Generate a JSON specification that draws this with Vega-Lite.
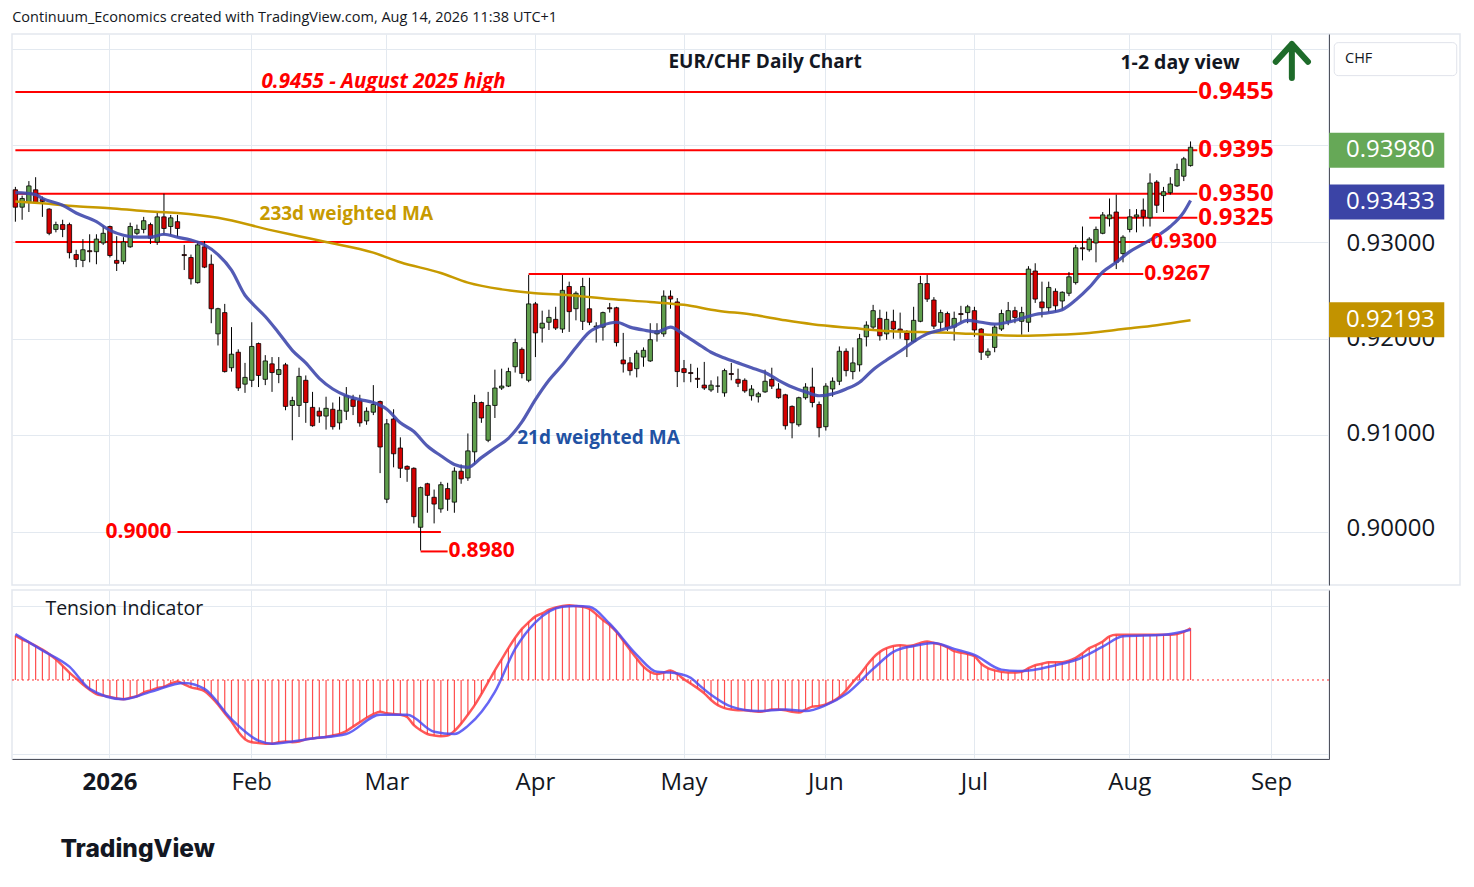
{
  "$schema": "https://vega.github.io/schema/vega-lite/v6.json",
  "description": "EUR/CHF daily candlestick chart with 21d and 233d weighted MAs, key levels and Tension Indicator panel.",
  "background": "white",
  "padding": {"left": 8, "top": 9, "right": 0, "bottom": 0},
  "title": {
    "text": "Continuum_Economics created with TradingView.com, Aug 14, 2026 11:38 UTC+1",
    "anchor": "start", "fontSize": 14.5, "fontWeight": "normal", "font": "Open Sans", "color": "#131722", "offset": 8, "dx": 4
  },
  "config": {
    "font": "Open Sans",
    "view": {"stroke": "#e3e7ee", "strokeWidth": 1.5},
    "axis": {"gridColor": "#e3e9f0", "gridWidth": 1, "labelColor": "#131722", "domainColor": "#50535e"}
  },
  "datasets": {
    "candles": [
      {"d":"2025-12-11","o":0.9354,"h":0.9357,"l":0.9321,"c":0.9336,"ti":0.60},
      {"d":"2025-12-12","o":0.9336,"h":0.9348,"l":0.9323,"c":0.9345,"ti":0.55},
      {"d":"2025-12-15","o":0.9341,"h":0.9363,"l":0.9331,"c":0.9358,"ti":0.51},
      {"d":"2025-12-16","o":0.9354,"h":0.9367,"l":0.9340,"c":0.9341,"ti":0.46},
      {"d":"2025-12-17","o":0.9344,"h":0.9347,"l":0.9326,"c":0.9342,"ti":0.41},
      {"d":"2025-12-18","o":0.9334,"h":0.9335,"l":0.9307,"c":0.9309,"ti":0.35},
      {"d":"2025-12-19","o":0.9313,"h":0.9321,"l":0.9310,"c":0.9318,"ti":0.28},
      {"d":"2025-12-22","o":0.9318,"h":0.9323,"l":0.9305,"c":0.9313,"ti":0.19},
      {"d":"2025-12-23","o":0.9318,"h":0.9320,"l":0.9283,"c":0.9289,"ti":0.10},
      {"d":"2025-12-24","o":0.9287,"h":0.9292,"l":0.9274,"c":0.9282,"ti":0.02},
      {"d":"2025-12-26","o":0.9281,"h":0.9303,"l":0.9274,"c":0.9292,"ti":-0.06},
      {"d":"2025-12-29","o":0.9291,"h":0.9308,"l":0.9279,"c":0.9290,"ti":-0.13},
      {"d":"2025-12-30","o":0.9290,"h":0.9308,"l":0.9277,"c":0.9303,"ti":-0.19},
      {"d":"2025-12-31","o":0.9299,"h":0.9317,"l":0.9297,"c":0.9309,"ti":-0.21},
      {"d":"2026-01-02","o":0.9316,"h":0.9317,"l":0.9284,"c":0.9286,"ti":-0.23},
      {"d":"2026-01-05","o":0.9281,"h":0.9306,"l":0.9270,"c":0.9278,"ti":-0.25},
      {"d":"2026-01-06","o":0.9280,"h":0.9305,"l":0.9277,"c":0.9300,"ti":-0.26},
      {"d":"2026-01-07","o":0.9295,"h":0.9320,"l":0.9294,"c":0.9316,"ti":-0.24},
      {"d":"2026-01-08","o":0.9309,"h":0.9318,"l":0.9307,"c":0.9313,"ti":-0.22},
      {"d":"2026-01-09","o":0.9313,"h":0.9326,"l":0.9309,"c":0.9322,"ti":-0.17},
      {"d":"2026-01-12","o":0.9318,"h":0.9320,"l":0.9298,"c":0.9304,"ti":-0.14},
      {"d":"2026-01-13","o":0.9300,"h":0.9330,"l":0.9297,"c":0.9326,"ti":-0.11},
      {"d":"2026-01-14","o":0.9326,"h":0.9350,"l":0.9307,"c":0.9314,"ti":-0.09},
      {"d":"2026-01-15","o":0.9316,"h":0.9328,"l":0.9307,"c":0.9325,"ti":-0.05},
      {"d":"2026-01-16","o":0.9321,"h":0.9328,"l":0.9305,"c":0.9314,"ti":-0.02},
      {"d":"2026-01-19","o":0.9287,"h":0.9297,"l":0.9271,"c":0.9286,"ti":-0.06},
      {"d":"2026-01-20","o":0.9284,"h":0.9287,"l":0.9256,"c":0.9262,"ti":-0.10},
      {"d":"2026-01-21","o":0.9258,"h":0.9301,"l":0.9257,"c":0.9297,"ti":-0.12},
      {"d":"2026-01-22","o":0.9295,"h":0.9301,"l":0.9273,"c":0.9274,"ti":-0.15},
      {"d":"2026-01-23","o":0.9277,"h":0.9287,"l":0.9216,"c":0.9231,"ti":-0.23},
      {"d":"2026-01-26","o":0.9205,"h":0.9232,"l":0.9193,"c":0.9231,"ti":-0.33},
      {"d":"2026-01-27","o":0.9227,"h":0.9236,"l":0.9165,"c":0.9166,"ti":-0.45},
      {"d":"2026-01-28","o":0.9170,"h":0.9212,"l":0.9166,"c":0.9184,"ti":-0.56},
      {"d":"2026-01-29","o":0.9186,"h":0.9189,"l":0.9146,"c":0.9149,"ti":-0.70},
      {"d":"2026-01-30","o":0.9153,"h":0.9175,"l":0.9144,"c":0.9160,"ti":-0.80},
      {"d":"2026-02-02","o":0.9157,"h":0.9217,"l":0.9150,"c":0.9192,"ti":-0.84},
      {"d":"2026-02-03","o":0.9195,"h":0.9196,"l":0.9150,"c":0.9162,"ti":-0.85},
      {"d":"2026-02-04","o":0.9158,"h":0.9183,"l":0.9152,"c":0.9177,"ti":-0.86},
      {"d":"2026-02-05","o":0.9174,"h":0.9181,"l":0.9145,"c":0.9165,"ti":-0.86},
      {"d":"2026-02-06","o":0.9163,"h":0.9181,"l":0.9154,"c":0.9168,"ti":-0.84},
      {"d":"2026-02-09","o":0.9173,"h":0.9175,"l":0.9126,"c":0.9130,"ti":-0.83},
      {"d":"2026-02-10","o":0.9131,"h":0.9140,"l":0.9095,"c":0.9136,"ti":-0.84},
      {"d":"2026-02-11","o":0.9131,"h":0.9170,"l":0.9119,"c":0.9161,"ti":-0.83},
      {"d":"2026-02-12","o":0.9157,"h":0.9162,"l":0.9113,"c":0.9134,"ti":-0.80},
      {"d":"2026-02-13","o":0.9129,"h":0.9145,"l":0.9109,"c":0.9110,"ti":-0.79},
      {"d":"2026-02-16","o":0.9125,"h":0.9129,"l":0.9113,"c":0.9120,"ti":-0.78},
      {"d":"2026-02-17","o":0.9120,"h":0.9140,"l":0.9106,"c":0.9128,"ti":-0.77},
      {"d":"2026-02-18","o":0.9127,"h":0.9134,"l":0.9106,"c":0.9109,"ti":-0.75},
      {"d":"2026-02-19","o":0.9113,"h":0.9140,"l":0.9106,"c":0.9126,"ti":-0.73},
      {"d":"2026-02-20","o":0.9125,"h":0.9150,"l":0.9116,"c":0.9141,"ti":-0.69},
      {"d":"2026-02-23","o":0.9137,"h":0.9142,"l":0.9121,"c":0.9130,"ti":-0.63},
      {"d":"2026-02-24","o":0.9136,"h":0.9142,"l":0.9109,"c":0.9113,"ti":-0.57},
      {"d":"2026-02-25","o":0.9115,"h":0.9129,"l":0.9111,"c":0.9125,"ti":-0.51},
      {"d":"2026-02-26","o":0.9124,"h":0.9152,"l":0.9121,"c":0.9132,"ti":-0.46},
      {"d":"2026-02-27","o":0.9135,"h":0.9136,"l":0.9061,"c":0.9088,"ti":-0.43},
      {"d":"2026-03-02","o":0.9034,"h":0.9117,"l":0.9030,"c":0.9112,"ti":-0.45},
      {"d":"2026-03-03","o":0.9117,"h":0.9127,"l":0.9067,"c":0.9081,"ti":-0.46},
      {"d":"2026-03-04","o":0.9087,"h":0.9098,"l":0.9056,"c":0.9066,"ti":-0.47},
      {"d":"2026-03-05","o":0.9068,"h":0.9069,"l":0.9052,"c":0.9065,"ti":-0.50},
      {"d":"2026-03-06","o":0.9066,"h":0.9067,"l":0.9009,"c":0.9016,"ti":-0.61},
      {"d":"2026-03-09","o":0.9005,"h":0.9047,"l":0.8981,"c":0.9046,"ti":-0.68},
      {"d":"2026-03-10","o":0.9050,"h":0.9051,"l":0.9020,"c":0.9038,"ti":-0.73},
      {"d":"2026-03-11","o":0.9036,"h":0.9044,"l":0.9009,"c":0.9029,"ti":-0.75},
      {"d":"2026-03-12","o":0.9024,"h":0.9052,"l":0.9020,"c":0.9049,"ti":-0.76},
      {"d":"2026-03-13","o":0.9045,"h":0.9051,"l":0.9022,"c":0.9034,"ti":-0.75},
      {"d":"2026-03-16","o":0.9031,"h":0.9067,"l":0.9020,"c":0.9063,"ti":-0.69},
      {"d":"2026-03-17","o":0.9063,"h":0.9070,"l":0.9050,"c":0.9055,"ti":-0.59},
      {"d":"2026-03-18","o":0.9056,"h":0.9102,"l":0.9053,"c":0.9084,"ti":-0.47},
      {"d":"2026-03-19","o":0.9083,"h":0.9142,"l":0.9070,"c":0.9134,"ti":-0.34},
      {"d":"2026-03-20","o":0.9134,"h":0.9135,"l":0.9113,"c":0.9118,"ti":-0.19},
      {"d":"2026-03-23","o":0.9095,"h":0.9145,"l":0.9093,"c":0.9131,"ti":-0.03},
      {"d":"2026-03-24","o":0.9131,"h":0.9168,"l":0.9118,"c":0.9149,"ti":0.13},
      {"d":"2026-03-25","o":0.9149,"h":0.9169,"l":0.9147,"c":0.9151,"ti":0.28},
      {"d":"2026-03-26","o":0.9151,"h":0.9170,"l":0.9150,"c":0.9166,"ti":0.43},
      {"d":"2026-03-27","o":0.9171,"h":0.9200,"l":0.9165,"c":0.9196,"ti":0.57},
      {"d":"2026-03-30","o":0.9189,"h":0.9191,"l":0.9159,"c":0.9164,"ti":0.69},
      {"d":"2026-03-31","o":0.9157,"h":0.9266,"l":0.9155,"c":0.9236,"ti":0.78},
      {"d":"2026-04-01","o":0.9236,"h":0.9238,"l":0.9181,"c":0.9206,"ti":0.86},
      {"d":"2026-04-02","o":0.9211,"h":0.9229,"l":0.9196,"c":0.9216,"ti":0.90},
      {"d":"2026-04-03","o":0.9217,"h":0.9230,"l":0.9209,"c":0.9222,"ti":0.95},
      {"d":"2026-04-06","o":0.9220,"h":0.9233,"l":0.9209,"c":0.9211,"ti":0.98},
      {"d":"2026-04-07","o":0.9210,"h":0.9266,"l":0.9206,"c":0.9250,"ti":1.00},
      {"d":"2026-04-08","o":0.9254,"h":0.9259,"l":0.9207,"c":0.9228,"ti":1.01},
      {"d":"2026-04-09","o":0.9231,"h":0.9249,"l":0.9219,"c":0.9247,"ti":1.00},
      {"d":"2026-04-10","o":0.9218,"h":0.9263,"l":0.9209,"c":0.9254,"ti":0.99},
      {"d":"2026-04-13","o":0.9231,"h":0.9263,"l":0.9214,"c":0.9217,"ti":0.96},
      {"d":"2026-04-14","o":0.9212,"h":0.9217,"l":0.9196,"c":0.9213,"ti":0.89},
      {"d":"2026-04-15","o":0.9212,"h":0.9228,"l":0.9198,"c":0.9227,"ti":0.81},
      {"d":"2026-04-16","o":0.9232,"h":0.9237,"l":0.9227,"c":0.9231,"ti":0.74},
      {"d":"2026-04-17","o":0.9232,"h":0.9233,"l":0.9192,"c":0.9196,"ti":0.65},
      {"d":"2026-04-20","o":0.9178,"h":0.9206,"l":0.9165,"c":0.9174,"ti":0.53},
      {"d":"2026-04-21","o":0.9175,"h":0.9181,"l":0.9162,"c":0.9167,"ti":0.41},
      {"d":"2026-04-22","o":0.9169,"h":0.9188,"l":0.9160,"c":0.9185,"ti":0.29},
      {"d":"2026-04-23","o":0.9181,"h":0.9191,"l":0.9171,"c":0.9188,"ti":0.18},
      {"d":"2026-04-24","o":0.9177,"h":0.9216,"l":0.9176,"c":0.9199,"ti":0.11},
      {"d":"2026-04-27","o":0.9205,"h":0.9216,"l":0.9197,"c":0.9208,"ti":0.08},
      {"d":"2026-04-28","o":0.9205,"h":0.9250,"l":0.9202,"c":0.9244,"ti":0.10},
      {"d":"2026-04-29","o":0.9244,"h":0.9250,"l":0.9231,"c":0.9241,"ti":0.13},
      {"d":"2026-04-30","o":0.9238,"h":0.9242,"l":0.9150,"c":0.9166,"ti":0.08},
      {"d":"2026-05-01","o":0.9169,"h":0.9178,"l":0.9155,"c":0.9165,"ti":0.01},
      {"d":"2026-05-04","o":0.9165,"h":0.9174,"l":0.9155,"c":0.9164,"ti":-0.05},
      {"d":"2026-05-05","o":0.9159,"h":0.9170,"l":0.9149,"c":0.9158,"ti":-0.11},
      {"d":"2026-05-06","o":0.9152,"h":0.9176,"l":0.9147,"c":0.9149,"ti":-0.18},
      {"d":"2026-05-07","o":0.9147,"h":0.9157,"l":0.9145,"c":0.9152,"ti":-0.27},
      {"d":"2026-05-08","o":0.9151,"h":0.9161,"l":0.9144,"c":0.9151,"ti":-0.34},
      {"d":"2026-05-11","o":0.9144,"h":0.9169,"l":0.9140,"c":0.9167,"ti":-0.38},
      {"d":"2026-05-12","o":0.9164,"h":0.9175,"l":0.9157,"c":0.9163,"ti":-0.40},
      {"d":"2026-05-13","o":0.9158,"h":0.9169,"l":0.9150,"c":0.9154,"ti":-0.41},
      {"d":"2026-05-14","o":0.9157,"h":0.9159,"l":0.9144,"c":0.9146,"ti":-0.41},
      {"d":"2026-05-15","o":0.9141,"h":0.9152,"l":0.9136,"c":0.9148,"ti":-0.42},
      {"d":"2026-05-18","o":0.9140,"h":0.9145,"l":0.9134,"c":0.9143,"ti":-0.43},
      {"d":"2026-05-19","o":0.9145,"h":0.9168,"l":0.9144,"c":0.9156,"ti":-0.42},
      {"d":"2026-05-20","o":0.9158,"h":0.9170,"l":0.9148,"c":0.9151,"ti":-0.40},
      {"d":"2026-05-21","o":0.9148,"h":0.9154,"l":0.9138,"c":0.9139,"ti":-0.40},
      {"d":"2026-05-22","o":0.9142,"h":0.9143,"l":0.9106,"c":0.9110,"ti":-0.41},
      {"d":"2026-05-25","o":0.9130,"h":0.9131,"l":0.9097,"c":0.9113,"ti":-0.43},
      {"d":"2026-05-26","o":0.9111,"h":0.9140,"l":0.9109,"c":0.9139,"ti":-0.44},
      {"d":"2026-05-27","o":0.9139,"h":0.9154,"l":0.9137,"c":0.9150,"ti":-0.40},
      {"d":"2026-05-28","o":0.9150,"h":0.9170,"l":0.9129,"c":0.9134,"ti":-0.36},
      {"d":"2026-05-29","o":0.9132,"h":0.9135,"l":0.9098,"c":0.9108,"ti":-0.35},
      {"d":"2026-06-01","o":0.9109,"h":0.9154,"l":0.9105,"c":0.9151,"ti":-0.33},
      {"d":"2026-06-02","o":0.9148,"h":0.9160,"l":0.9140,"c":0.9156,"ti":-0.29},
      {"d":"2026-06-03","o":0.9156,"h":0.9192,"l":0.9152,"c":0.9187,"ti":-0.23},
      {"d":"2026-06-04","o":0.9187,"h":0.9190,"l":0.9161,"c":0.9167,"ti":-0.14},
      {"d":"2026-06-05","o":0.9166,"h":0.9191,"l":0.9158,"c":0.9175,"ti":-0.03},
      {"d":"2026-06-08","o":0.9173,"h":0.9205,"l":0.9166,"c":0.9200,"ti":0.07},
      {"d":"2026-06-09","o":0.9202,"h":0.9218,"l":0.9192,"c":0.9214,"ti":0.19},
      {"d":"2026-06-10","o":0.9212,"h":0.9235,"l":0.9209,"c":0.9229,"ti":0.30},
      {"d":"2026-06-11","o":0.9221,"h":0.9230,"l":0.9198,"c":0.9203,"ti":0.38},
      {"d":"2026-06-12","o":0.9205,"h":0.9228,"l":0.9199,"c":0.9220,"ti":0.43},
      {"d":"2026-06-15","o":0.9218,"h":0.9230,"l":0.9200,"c":0.9210,"ti":0.46},
      {"d":"2026-06-16","o":0.9210,"h":0.9227,"l":0.9200,"c":0.9208,"ti":0.47},
      {"d":"2026-06-17","o":0.9206,"h":0.9209,"l":0.9181,"c":0.9199,"ti":0.46},
      {"d":"2026-06-18","o":0.9197,"h":0.9233,"l":0.9196,"c":0.9219,"ti":0.47},
      {"d":"2026-06-19","o":0.9218,"h":0.9265,"l":0.9217,"c":0.9257,"ti":0.50},
      {"d":"2026-06-22","o":0.9257,"h":0.9266,"l":0.9238,"c":0.9241,"ti":0.52},
      {"d":"2026-06-23","o":0.9240,"h":0.9243,"l":0.9210,"c":0.9213,"ti":0.50},
      {"d":"2026-06-24","o":0.9217,"h":0.9230,"l":0.9208,"c":0.9227,"ti":0.48},
      {"d":"2026-06-25","o":0.9226,"h":0.9228,"l":0.9208,"c":0.9211,"ti":0.44},
      {"d":"2026-06-26","o":0.9212,"h":0.9228,"l":0.9198,"c":0.9221,"ti":0.39},
      {"d":"2026-06-29","o":0.9226,"h":0.9234,"l":0.9217,"c":0.9225,"ti":0.37},
      {"d":"2026-06-30","o":0.9227,"h":0.9235,"l":0.9216,"c":0.9233,"ti":0.35},
      {"d":"2026-07-01","o":0.9229,"h":0.9233,"l":0.9202,"c":0.9209,"ti":0.32},
      {"d":"2026-07-02","o":0.9210,"h":0.9211,"l":0.9178,"c":0.9186,"ti":0.22},
      {"d":"2026-07-03","o":0.9183,"h":0.9190,"l":0.9180,"c":0.9187,"ti":0.16},
      {"d":"2026-07-06","o":0.9191,"h":0.9214,"l":0.9186,"c":0.9212,"ti":0.13},
      {"d":"2026-07-07","o":0.9210,"h":0.9230,"l":0.9208,"c":0.9226,"ti":0.11},
      {"d":"2026-07-08","o":0.9218,"h":0.9238,"l":0.9214,"c":0.9229,"ti":0.10},
      {"d":"2026-07-09","o":0.9229,"h":0.9233,"l":0.9216,"c":0.9222,"ti":0.10},
      {"d":"2026-07-10","o":0.9218,"h":0.9233,"l":0.9204,"c":0.9227,"ti":0.11},
      {"d":"2026-07-13","o":0.9217,"h":0.9275,"l":0.9207,"c":0.9272,"ti":0.16},
      {"d":"2026-07-14","o":0.9270,"h":0.9278,"l":0.9237,"c":0.9241,"ti":0.20},
      {"d":"2026-07-15","o":0.9238,"h":0.9259,"l":0.9222,"c":0.9232,"ti":0.22},
      {"d":"2026-07-16","o":0.9232,"h":0.9259,"l":0.9227,"c":0.9253,"ti":0.24},
      {"d":"2026-07-17","o":0.9249,"h":0.9252,"l":0.9228,"c":0.9234,"ti":0.24},
      {"d":"2026-07-20","o":0.9239,"h":0.9249,"l":0.9230,"c":0.9248,"ti":0.24},
      {"d":"2026-07-21","o":0.9247,"h":0.9269,"l":0.9244,"c":0.9264,"ti":0.26},
      {"d":"2026-07-22","o":0.9258,"h":0.9297,"l":0.9256,"c":0.9294,"ti":0.30},
      {"d":"2026-07-23","o":0.9294,"h":0.9316,"l":0.9281,"c":0.9293,"ti":0.36},
      {"d":"2026-07-24","o":0.9292,"h":0.9305,"l":0.9290,"c":0.9303,"ti":0.43},
      {"d":"2026-07-27","o":0.9299,"h":0.9316,"l":0.9279,"c":0.9313,"ti":0.47},
      {"d":"2026-07-28","o":0.9309,"h":0.9331,"l":0.9308,"c":0.9328,"ti":0.52},
      {"d":"2026-07-29","o":0.9324,"h":0.9345,"l":0.9316,"c":0.9328,"ti":0.59},
      {"d":"2026-07-30","o":0.9331,"h":0.9349,"l":0.9272,"c":0.9279,"ti":0.61},
      {"d":"2026-07-31","o":0.9288,"h":0.9307,"l":0.9279,"c":0.9305,"ti":0.61},
      {"d":"2026-08-03","o":0.9313,"h":0.9334,"l":0.9310,"c":0.9326,"ti":0.61},
      {"d":"2026-08-04","o":0.9326,"h":0.9334,"l":0.9310,"c":0.9328,"ti":0.61},
      {"d":"2026-08-05","o":0.9333,"h":0.9345,"l":0.9316,"c":0.9326,"ti":0.61},
      {"d":"2026-08-06","o":0.9325,"h":0.9371,"l":0.9316,"c":0.9361,"ti":0.61},
      {"d":"2026-08-07","o":0.9362,"h":0.9364,"l":0.9330,"c":0.9338,"ti":0.61},
      {"d":"2026-08-10","o":0.9348,"h":0.9357,"l":0.9331,"c":0.9352,"ti":0.61},
      {"d":"2026-08-11","o":0.9351,"h":0.9367,"l":0.9349,"c":0.9360,"ti":0.61},
      {"d":"2026-08-12","o":0.9358,"h":0.9381,"l":0.9357,"c":0.9375,"ti":0.62},
      {"d":"2026-08-13","o":0.9368,"h":0.9388,"l":0.9363,"c":0.9386,"ti":0.65},
      {"d":"2026-08-14","o":0.9379,"h":0.9404,"l":0.9378,"c":0.9398,"ti":0.70}
    ],
    "ma21": [
      {"d":"2025-12-11","v":0.9351},{"d":"2025-12-16","v":0.9349},{"d":"2025-12-17","v":0.9345},{"d":"2025-12-22","v":0.9338},
      {"d":"2025-12-24","v":0.9330},{"d":"2025-12-30","v":0.9321},{"d":"2026-01-02","v":0.9312},{"d":"2026-01-06","v":0.9307},
      {"d":"2026-01-08","v":0.9305},{"d":"2026-01-12","v":0.9305},{"d":"2026-01-14","v":0.9308},{"d":"2026-01-16","v":0.9305},
      {"d":"2026-01-20","v":0.9302},{"d":"2026-01-22","v":0.9297},{"d":"2026-01-26","v":0.9287},{"d":"2026-01-28","v":0.9271},
      {"d":"2026-01-30","v":0.9245},{"d":"2026-02-02","v":0.9237},{"d":"2026-02-04","v":0.9223},{"d":"2026-02-06","v":0.9206},
      {"d":"2026-02-10","v":0.9188},{"d":"2026-02-12","v":0.9175},{"d":"2026-02-16","v":0.9159},{"d":"2026-02-18","v":0.9148},
      {"d":"2026-02-20","v":0.9141},{"d":"2026-02-24","v":0.9137},{"d":"2026-02-26","v":0.9134},{"d":"2026-03-02","v":0.9127},
      {"d":"2026-03-04","v":0.9113},{"d":"2026-03-06","v":0.9104},{"d":"2026-03-10","v":0.9089},{"d":"2026-03-12","v":0.9079},
      {"d":"2026-03-16","v":0.9070},{"d":"2026-03-18","v":0.9067},{"d":"2026-03-20","v":0.9077},{"d":"2026-03-24","v":0.9087},
      {"d":"2026-03-26","v":0.9097},{"d":"2026-03-30","v":0.9114},{"d":"2026-04-01","v":0.9137},{"d":"2026-04-03","v":0.9157},
      {"d":"2026-04-07","v":0.9173},{"d":"2026-04-09","v":0.9191},{"d":"2026-04-13","v":0.9207},{"d":"2026-04-15","v":0.9214},
      {"d":"2026-04-17","v":0.9217},{"d":"2026-04-21","v":0.9212},{"d":"2026-04-23","v":0.9209},{"d":"2026-04-27","v":0.9207},
      {"d":"2026-04-29","v":0.9212},{"d":"2026-05-01","v":0.9204},{"d":"2026-05-05","v":0.9195},{"d":"2026-05-07","v":0.9186},
      {"d":"2026-05-11","v":0.9180},{"d":"2026-05-13","v":0.9175},{"d":"2026-05-15","v":0.9170},{"d":"2026-05-19","v":0.9165},
      {"d":"2026-05-21","v":0.9157},{"d":"2026-05-25","v":0.9150},{"d":"2026-05-27","v":0.9145},{"d":"2026-05-29","v":0.9141},
      {"d":"2026-06-02","v":0.9143},{"d":"2026-06-04","v":0.9148},{"d":"2026-06-08","v":0.9155},{"d":"2026-06-10","v":0.9168},
      {"d":"2026-06-12","v":0.9178},{"d":"2026-06-16","v":0.9187},{"d":"2026-06-18","v":0.9197},{"d":"2026-06-22","v":0.9205},
      {"d":"2026-06-24","v":0.9209},{"d":"2026-06-26","v":0.9213},{"d":"2026-06-30","v":0.9219},{"d":"2026-07-02","v":0.9217},
      {"d":"2026-07-06","v":0.9215},{"d":"2026-07-08","v":0.9217},{"d":"2026-07-10","v":0.9221},{"d":"2026-07-14","v":0.9225},
      {"d":"2026-07-16","v":0.9227},{"d":"2026-07-20","v":0.9230},{"d":"2026-07-22","v":0.9240},{"d":"2026-07-24","v":0.9253},
      {"d":"2026-07-28","v":0.9269},{"d":"2026-07-30","v":0.9279},{"d":"2026-08-03","v":0.9290},{"d":"2026-08-05","v":0.9298},
      {"d":"2026-08-07","v":0.9306},{"d":"2026-08-11","v":0.9316},{"d":"2026-08-13","v":0.9331},{"d":"2026-08-14","v":0.9343}
    ],
    "ma233": [
      {"d":"2025-12-11","v":0.9342},{"d":"2025-12-17","v":0.9340},{"d":"2025-12-24","v":0.9337},{"d":"2026-01-02","v":0.9335},
      {"d":"2026-01-09","v":0.9332},{"d":"2026-01-16","v":0.9330},{"d":"2026-01-26","v":0.9325},{"d":"2026-02-05","v":0.9312},
      {"d":"2026-02-11","v":0.9306},{"d":"2026-02-17","v":0.9300},{"d":"2026-02-26","v":0.9289},{"d":"2026-03-04","v":0.9279},
      {"d":"2026-03-12","v":0.9268},{"d":"2026-03-18","v":0.9258},{"d":"2026-03-25","v":0.9251},{"d":"2026-04-01","v":0.9247},
      {"d":"2026-04-08","v":0.9245},{"d":"2026-04-16","v":0.9241},{"d":"2026-04-24","v":0.9238},{"d":"2026-05-01","v":0.9235},
      {"d":"2026-05-08","v":0.9229},{"d":"2026-05-15","v":0.9225},{"d":"2026-05-22","v":0.9219},{"d":"2026-05-28","v":0.9215},
      {"d":"2026-06-05","v":0.9211},{"d":"2026-06-12","v":0.9208},{"d":"2026-06-19","v":0.9207},{"d":"2026-06-26","v":0.9206},
      {"d":"2026-07-03","v":0.9204},{"d":"2026-07-10","v":0.9203},{"d":"2026-07-17","v":0.9204},{"d":"2026-07-24","v":0.9206},
      {"d":"2026-07-31","v":0.9210},{"d":"2026-08-07","v":0.9214},{"d":"2026-08-14","v":0.9219}
    ],
    "sig": [
      {"d":"2025-12-11","v":0.62},{"d":"2025-12-17","v":0.40},{"d":"2025-12-23","v":0.18},{"d":"2025-12-29","v":-0.12},
      {"d":"2026-01-06","v":-0.26},{"d":"2026-01-12","v":-0.16},{"d":"2026-01-19","v":-0.04},{"d":"2026-01-22","v":-0.12},
      {"d":"2026-01-28","v":-0.53},{"d":"2026-02-03","v":-0.82},{"d":"2026-02-05","v":-0.86},{"d":"2026-02-13","v":-0.79},
      {"d":"2026-02-20","v":-0.73},{"d":"2026-02-27","v":-0.47},{"d":"2026-03-05","v":-0.47},{"d":"2026-03-11","v":-0.70},
      {"d":"2026-03-16","v":-0.73},{"d":"2026-03-18","v":-0.62},{"d":"2026-03-24","v":-0.16},{"d":"2026-03-27","v":0.42},
      {"d":"2026-04-01","v":0.78},{"d":"2026-04-07","v":0.99},{"d":"2026-04-09","v":1.00},{"d":"2026-04-13","v":0.99},
      {"d":"2026-04-16","v":0.76},{"d":"2026-04-22","v":0.34},{"d":"2026-04-27","v":0.11},{"d":"2026-04-29","v":0.10},
      {"d":"2026-05-04","v":0.03},{"d":"2026-05-05","v":-0.05},{"d":"2026-05-07","v":-0.20},{"d":"2026-05-12","v":-0.36},
      {"d":"2026-05-18","v":-0.42},{"d":"2026-05-22","v":-0.40},{"d":"2026-05-27","v":-0.42},{"d":"2026-06-01","v":-0.34},
      {"d":"2026-06-04","v":-0.19},{"d":"2026-06-10","v":0.15},{"d":"2026-06-15","v":0.38},{"d":"2026-06-18","v":0.46},
      {"d":"2026-06-23","v":0.50},{"d":"2026-06-26","v":0.42},{"d":"2026-07-01","v":0.34},{"d":"2026-07-07","v":0.14},
      {"d":"2026-07-10","v":0.12},{"d":"2026-07-17","v":0.20},{"d":"2026-07-22","v":0.27},{"d":"2026-07-28","v":0.45},
      {"d":"2026-07-31","v":0.59},{"d":"2026-08-10","v":0.61},{"d":"2026-08-14","v":0.68}
    ],
    "levels": [
      {"price":0.9455,"start":"2025-12-11","end":"2026-08-17","label":"0.9455"},
      {"price":0.9395,"start":"2025-12-11","end":"2026-08-17","label":"0.9395"},
      {"price":0.9350,"start":"2025-12-11","end":"2026-08-17","label":"0.9350"},
      {"price":0.9325,"start":"2026-07-24","end":"2026-08-17","label":"0.9325"},
      {"price":0.9300,"start":"2025-12-11","end":"2026-08-06","label":"0.9300"},
      {"price":0.9267,"start":"2026-03-31","end":"2026-08-05","label":"0.9267"},
      {"price":0.9000,"start":"2026-01-16","end":"2026-03-12","label":"0.9000"},
      {"price":0.8980,"start":"2026-03-09","end":"2026-03-13","label":"0.8980"}
    ],
    "tags": [
      {"kind":"last","price":0.9398,"label":"0.93980"},
      {"kind":"ma21","price":0.93433,"label":"0.93433"},
      {"kind":"ma233","price":0.92193,"label":"0.92193"}
    ]
  },
  "vconcat": [
    {
      "spacing": 0,
      "bounds": "flush",
      "hconcat": [
        {
          "width": 1317,
          "height": 551,
          "layer": [
            {
              "data": {"name": "levels"},
              "mark": {"type": "rule", "color": "#ff0000", "strokeWidth": 2},
              "encoding": {
                "x": {
                  "field": "start", "type": "ordinal",
                  "scale": {"type": "band", "paddingInner": 0, "paddingOuter": 0, "domain": ["2025-12-11","2025-12-12","2025-12-15","2025-12-16","2025-12-17","2025-12-18","2025-12-19","2025-12-22","2025-12-23","2025-12-24","2025-12-26","2025-12-29","2025-12-30","2025-12-31","2026-01-02","2026-01-05","2026-01-06","2026-01-07","2026-01-08","2026-01-09","2026-01-12","2026-01-13","2026-01-14","2026-01-15","2026-01-16","2026-01-19","2026-01-20","2026-01-21","2026-01-22","2026-01-23","2026-01-26","2026-01-27","2026-01-28","2026-01-29","2026-01-30","2026-02-02","2026-02-03","2026-02-04","2026-02-05","2026-02-06","2026-02-09","2026-02-10","2026-02-11","2026-02-12","2026-02-13","2026-02-16","2026-02-17","2026-02-18","2026-02-19","2026-02-20","2026-02-23","2026-02-24","2026-02-25","2026-02-26","2026-02-27","2026-03-02","2026-03-03","2026-03-04","2026-03-05","2026-03-06","2026-03-09","2026-03-10","2026-03-11","2026-03-12","2026-03-13","2026-03-16","2026-03-17","2026-03-18","2026-03-19","2026-03-20","2026-03-23","2026-03-24","2026-03-25","2026-03-26","2026-03-27","2026-03-30","2026-03-31","2026-04-01","2026-04-02","2026-04-03","2026-04-06","2026-04-07","2026-04-08","2026-04-09","2026-04-10","2026-04-13","2026-04-14","2026-04-15","2026-04-16","2026-04-17","2026-04-20","2026-04-21","2026-04-22","2026-04-23","2026-04-24","2026-04-27","2026-04-28","2026-04-29","2026-04-30","2026-05-01","2026-05-04","2026-05-05","2026-05-06","2026-05-07","2026-05-08","2026-05-11","2026-05-12","2026-05-13","2026-05-14","2026-05-15","2026-05-18","2026-05-19","2026-05-20","2026-05-21","2026-05-22","2026-05-25","2026-05-26","2026-05-27","2026-05-28","2026-05-29","2026-06-01","2026-06-02","2026-06-03","2026-06-04","2026-06-05","2026-06-08","2026-06-09","2026-06-10","2026-06-11","2026-06-12","2026-06-15","2026-06-16","2026-06-17","2026-06-18","2026-06-19","2026-06-22","2026-06-23","2026-06-24","2026-06-25","2026-06-26","2026-06-29","2026-06-30","2026-07-01","2026-07-02","2026-07-03","2026-07-06","2026-07-07","2026-07-08","2026-07-09","2026-07-10","2026-07-13","2026-07-14","2026-07-15","2026-07-16","2026-07-17","2026-07-20","2026-07-21","2026-07-22","2026-07-23","2026-07-24","2026-07-27","2026-07-28","2026-07-29","2026-07-30","2026-07-31","2026-08-03","2026-08-04","2026-08-05","2026-08-06","2026-08-07","2026-08-10","2026-08-11","2026-08-12","2026-08-13","2026-08-14","2026-08-17","2026-08-18","2026-08-19","2026-08-20","2026-08-21","2026-08-24","2026-08-25","2026-08-26","2026-08-27","2026-08-28","2026-08-31","2026-09-01","2026-09-02","2026-09-03","2026-09-04","2026-09-07","2026-09-08","2026-09-09","2026-09-10","2026-09-11"]},
                  "axis": {"values": ["2026-01-02","2026-02-02","2026-03-02","2026-04-01","2026-05-01","2026-06-01","2026-07-01","2026-08-03","2026-09-01"], "bandPosition": 0.5, "grid": true, "labels": false, "ticks": false, "domain": false, "title": null}
                },
                "x2": {"field": "end"},
                "y": {
                  "field": "price", "type": "quantitative",
                  "scale": {"domain": [0.89453, 0.95151], "nice": false, "zero": false},
                  "axis": {"orient": "right", "values": [0.90, 0.91, 0.92, 0.93, 0.94, 0.95], "grid": true, "labels": false, "ticks": false, "domain": false, "title": null}
                }
              }
            },
            {
              "data": {"name": "candles"},
              "mark": {"type": "rule", "color": "#000000", "strokeWidth": 1},
              "encoding": {
                "x": {"field": "d", "type": "ordinal"},
                "y": {"field": "l", "type": "quantitative"},
                "y2": {"field": "h"}
              }
            },
            {
              "data": {"name": "candles"},
              "mark": {"type": "bar", "size": 4.4, "stroke": "#000000", "strokeWidth": 0.8},
              "encoding": {
                "x": {"field": "d", "type": "ordinal"},
                "y": {"field": "o", "type": "quantitative"},
                "y2": {"field": "c"},
                "color": {"condition": {"test": "datum.c >= datum.o", "value": "#5f9e4c"}, "value": "#d40000"}
              }
            },
            {
              "data": {"name": "ma233"},
              "mark": {"type": "line", "color": "#c79a00", "strokeWidth": 2.5, "interpolate": "monotone"},
              "encoding": {"x": {"field": "d", "type": "ordinal"}, "y": {"field": "v", "type": "quantitative"}}
            },
            {
              "data": {"name": "ma21"},
              "mark": {"type": "line", "color": "#4049ad", "strokeWidth": 3.2, "opacity": 0.9, "interpolate": "monotone"},
              "encoding": {"x": {"field": "d", "type": "ordinal"}, "y": {"field": "v", "type": "quantitative"}}
            },
            {
              "data": {"name": "levels"},
              "transform": [{"filter": "datum.price != 0.9"}],
              "mark": {"type": "text", "align": "left", "baseline": "middle", "dx": 1, "fontWeight": "bold", "color": "#ff0000"},
              "encoding": {
                "x": {"field": "end", "type": "ordinal"},
                "y": {"field": "price", "type": "quantitative"},
                "text": {"field": "label"},
                "size": {"condition": {"test": "datum.price > 0.931", "value": 24}, "value": 21}
              }
            },
            {
              "data": {"name": "levels"},
              "transform": [{"filter": "datum.price == 0.9"}],
              "mark": {"type": "text", "align": "right", "baseline": "middle", "dx": -6, "fontSize": 21, "fontWeight": "bold", "color": "#ff0000"},
              "encoding": {
                "x": {"field": "start", "type": "ordinal"},
                "y": {"field": "price", "type": "quantitative"},
                "text": {"field": "label"}
              }
            },
            {
              "data": {"values": [{}]},
              "mark": {"type": "text", "align": "left", "baseline": "middle", "dx": 3, "fontSize": 20.5, "fontWeight": "bold", "fontStyle": "italic", "color": "#ff0000"},
              "encoding": {"x": {"datum": "2026-02-03", "type": "ordinal"}, "y": {"datum": 0.94654, "type": "quantitative"}, "text": {"value": "0.9455 - August 2025 high"}}
            },
            {
              "data": {"values": [{}]},
              "mark": {"type": "text", "align": "center", "baseline": "middle", "fontSize": 19, "fontWeight": "bold", "color": "#131722"},
              "encoding": {"x": {"datum": "2026-05-19", "type": "ordinal"}, "y": {"datum": 0.94861, "type": "quantitative"}, "text": {"value": "EUR/CHF Daily Chart"}}
            },
            {
              "data": {"values": [{}]},
              "mark": {"type": "text", "align": "center", "baseline": "middle", "dx": 3, "fontSize": 19.5, "fontWeight": "bold", "color": "#131722"},
              "encoding": {"x": {"datum": "2026-08-12", "type": "ordinal"}, "y": {"datum": 0.94851, "type": "quantitative"}, "text": {"value": "1-2 day view"}}
            },
            {
              "data": {"values": [{}]},
              "mark": {"type": "point", "shape": "M0,1L0,-1M-0.95,0.05L0,-1L0.95,0.05", "size": 1150, "filled": false, "stroke": "#1e6b2a", "strokeWidth": 6, "strokeCap": "round", "strokeJoin": "round", "opacity": 1},
              "encoding": {"x": {"datum": "2026-09-04", "type": "ordinal"}, "y": {"datum": 0.94872, "type": "quantitative"}}
            },
            {
              "data": {"values": [{}]},
              "mark": {"type": "text", "align": "left", "baseline": "middle", "dx": 1, "fontSize": 19, "fontWeight": "bold", "color": "#c79a00"},
              "encoding": {"x": {"datum": "2026-02-03", "type": "ordinal"}, "y": {"datum": 0.9329, "type": "quantitative"}, "text": {"value": "233d weighted MA"}}
            },
            {
              "data": {"values": [{}]},
              "mark": {"type": "text", "align": "left", "baseline": "middle", "dx": 2, "fontSize": 19, "fontWeight": "bold", "color": "#2152a3"},
              "encoding": {"x": {"datum": "2026-03-27", "type": "ordinal"}, "y": {"datum": 0.90973, "type": "quantitative"}, "text": {"value": "21d weighted MA"}}
            }
          ]
        },
        {
          "width": 131,
          "height": 551,
          "layer": [
            {
              "data": {"name": "tags"},
              "mark": {"type": "bar", "orient": "horizontal", "size": 35},
              "encoding": {
                "x": {"datum": 0, "type": "quantitative", "scale": {"domain": [0, 1], "nice": false, "zero": false}, "axis": null},
                "x2": {"datum": 0.88},
                "y": {
                  "field": "price", "type": "quantitative",
                  "scale": {"domain": [0.89453, 0.95151], "nice": false, "zero": false},
                  "axis": {"orient": "left", "values": [0.90, 0.91, 0.92, 0.93], "format": ".5f", "labelAlign": "left", "labelBaseline": "middle", "labelPadding": -17, "ticks": false, "tickSize": 0, "grid": false, "domain": true, "domainColor": "#50535e", "labelFontSize": 24, "labelColor": "#131722", "labelFlush": false, "labelOverlap": false, "labelBound": false, "title": null}
                },
                "color": {"field": "kind", "type": "nominal", "scale": {"domain": ["last", "ma21", "ma233"], "range": ["#66a857", "#3b44a6", "#c29300"]}, "legend": null}
              }
            },
            {
              "data": {"name": "tags"},
              "mark": {"type": "text", "align": "left", "baseline": "middle", "dx": 17, "fontSize": 24, "color": "#ffffff"},
              "encoding": {
                "x": {"datum": 0, "type": "quantitative"},
                "y": {"field": "price", "type": "quantitative"},
                "text": {"field": "label"}
              }
            },
            {
              "data": {"values": [{}]},
              "mark": {"type": "bar", "orient": "horizontal", "size": 33, "fill": "#ffffff", "stroke": "#e0e3eb", "strokeWidth": 1, "cornerRadius": 4},
              "encoding": {"x": {"datum": 0.04, "type": "quantitative"}, "x2": {"datum": 0.975}, "y": {"datum": 0.94939, "type": "quantitative"}}
            },
            {
              "data": {"values": [{}]},
              "mark": {"type": "text", "align": "left", "baseline": "middle", "dx": 16, "fontSize": 14.5, "color": "#131722"},
              "encoding": {"x": {"datum": 0, "type": "quantitative"}, "y": {"datum": 0.94939, "type": "quantitative"}, "text": {"value": "CHF"}}
            }
          ]
        }
      ]
    },
    {
      "width": 1317,
      "height": 169,
      "title": {"text": "TradingView", "orient": "bottom", "anchor": "start", "fontSize": 24.5, "font": "Inter", "fontWeight": 800, "color": "#131722", "offset": 44, "dx": 50},
      "layer": [
        {
          "data": {"name": "candles"},
          "mark": {"type": "rule", "color": "#ff4d4d", "strokeWidth": 1.2},
          "encoding": {
            "x": {
              "field": "d", "type": "ordinal",
              "scale": {"type": "band", "paddingInner": 0, "paddingOuter": 0, "domain": ["2025-12-11","2025-12-12","2025-12-15","2025-12-16","2025-12-17","2025-12-18","2025-12-19","2025-12-22","2025-12-23","2025-12-24","2025-12-26","2025-12-29","2025-12-30","2025-12-31","2026-01-02","2026-01-05","2026-01-06","2026-01-07","2026-01-08","2026-01-09","2026-01-12","2026-01-13","2026-01-14","2026-01-15","2026-01-16","2026-01-19","2026-01-20","2026-01-21","2026-01-22","2026-01-23","2026-01-26","2026-01-27","2026-01-28","2026-01-29","2026-01-30","2026-02-02","2026-02-03","2026-02-04","2026-02-05","2026-02-06","2026-02-09","2026-02-10","2026-02-11","2026-02-12","2026-02-13","2026-02-16","2026-02-17","2026-02-18","2026-02-19","2026-02-20","2026-02-23","2026-02-24","2026-02-25","2026-02-26","2026-02-27","2026-03-02","2026-03-03","2026-03-04","2026-03-05","2026-03-06","2026-03-09","2026-03-10","2026-03-11","2026-03-12","2026-03-13","2026-03-16","2026-03-17","2026-03-18","2026-03-19","2026-03-20","2026-03-23","2026-03-24","2026-03-25","2026-03-26","2026-03-27","2026-03-30","2026-03-31","2026-04-01","2026-04-02","2026-04-03","2026-04-06","2026-04-07","2026-04-08","2026-04-09","2026-04-10","2026-04-13","2026-04-14","2026-04-15","2026-04-16","2026-04-17","2026-04-20","2026-04-21","2026-04-22","2026-04-23","2026-04-24","2026-04-27","2026-04-28","2026-04-29","2026-04-30","2026-05-01","2026-05-04","2026-05-05","2026-05-06","2026-05-07","2026-05-08","2026-05-11","2026-05-12","2026-05-13","2026-05-14","2026-05-15","2026-05-18","2026-05-19","2026-05-20","2026-05-21","2026-05-22","2026-05-25","2026-05-26","2026-05-27","2026-05-28","2026-05-29","2026-06-01","2026-06-02","2026-06-03","2026-06-04","2026-06-05","2026-06-08","2026-06-09","2026-06-10","2026-06-11","2026-06-12","2026-06-15","2026-06-16","2026-06-17","2026-06-18","2026-06-19","2026-06-22","2026-06-23","2026-06-24","2026-06-25","2026-06-26","2026-06-29","2026-06-30","2026-07-01","2026-07-02","2026-07-03","2026-07-06","2026-07-07","2026-07-08","2026-07-09","2026-07-10","2026-07-13","2026-07-14","2026-07-15","2026-07-16","2026-07-17","2026-07-20","2026-07-21","2026-07-22","2026-07-23","2026-07-24","2026-07-27","2026-07-28","2026-07-29","2026-07-30","2026-07-31","2026-08-03","2026-08-04","2026-08-05","2026-08-06","2026-08-07","2026-08-10","2026-08-11","2026-08-12","2026-08-13","2026-08-14","2026-08-17","2026-08-18","2026-08-19","2026-08-20","2026-08-21","2026-08-24","2026-08-25","2026-08-26","2026-08-27","2026-08-28","2026-08-31","2026-09-01","2026-09-02","2026-09-03","2026-09-04","2026-09-07","2026-09-08","2026-09-09","2026-09-10","2026-09-11"]},
              "axis": {
                "values": ["2026-01-02","2026-02-02","2026-03-02","2026-04-01","2026-05-01","2026-06-01","2026-07-01","2026-08-03","2026-09-01"],
                "bandPosition": 0.5, "grid": true, "ticks": false, "tickSize": 0, "domain": true, "domainColor": "#50535e",
                "labelAngle": 0, "labelFontSize": 24, "labelPadding": 11, "labelColor": "#131722",
                "labelExpr": "datum.value == '2026-01-02' ? '2026' : ['Jan','Feb','Mar','Apr','May','Jun','Jul','Aug','Sep','Oct','Nov','Dec'][toNumber(substring(datum.value, 5, 7)) - 1]",
                "labelFontWeight": {"condition": {"test": "datum.value == '2026-01-02'", "value": "bold"}, "value": "normal"},
                "title": null
              }
            },
            "y": {
              "field": "ti", "type": "quantitative",
              "scale": {"domain": [-1.0676, 1.2162], "nice": false, "zero": false},
              "axis": {"orient": "right", "values": [-1, 1], "grid": true, "labels": false, "ticks": false, "domain": true, "domainColor": "#50535e", "title": null}
            },
            "y2": {"datum": 0}
          }
        },
        {
          "data": {"values": [{}]},
          "mark": {"type": "rule", "color": "#ff3030", "strokeDash": [2, 3], "strokeWidth": 1},
          "encoding": {"y": {"datum": 0, "type": "quantitative"}}
        },
        {
          "data": {"name": "candles"},
          "mark": {"type": "line", "color": "#ff3b3b", "strokeWidth": 2.5, "opacity": 0.85, "interpolate": "monotone"},
          "encoding": {"x": {"field": "d", "type": "ordinal"}, "y": {"field": "ti", "type": "quantitative"}}
        },
        {
          "data": {"name": "sig"},
          "mark": {"type": "line", "color": "#4b4bf2", "strokeWidth": 2.5, "opacity": 0.85, "interpolate": "monotone"},
          "encoding": {"x": {"field": "d", "type": "ordinal"}, "y": {"field": "v", "type": "quantitative"}}
        },
        {
          "data": {"values": [{}]},
          "mark": {"type": "text", "align": "left", "baseline": "middle", "dx": 3, "fontSize": 19.5, "color": "#131722"},
          "encoding": {"x": {"datum": "2025-12-17", "type": "ordinal"}, "y": {"datum": 0.96, "type": "quantitative"}, "text": {"value": "Tension Indicator"}}
        }
      ]
    }
  ],
  "spacing": 3
}
